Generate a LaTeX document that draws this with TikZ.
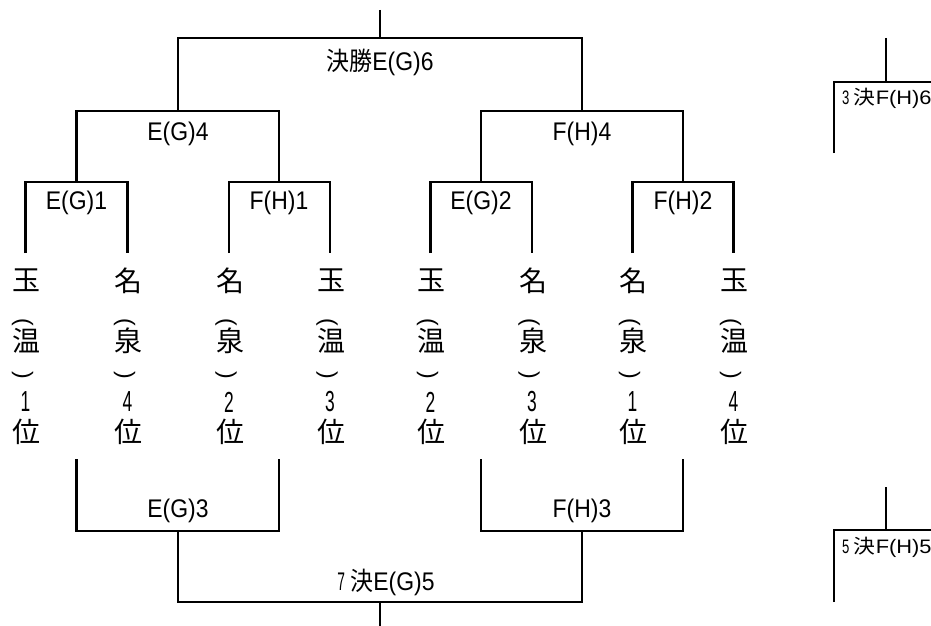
\documentclass[tikz,border=0pt]{standalone}
\usepackage{fontspec}
\usepackage{graphicx}
\setmainfont{Liberation Sans}
\newfontfamily\jp{Noto Sans CJK JP}
\newcommand{\nd}[1]{\scalebox{0.6}[1]{#1}}
\newcommand{\cnd}[1]{\scalebox{0.9}[1]{#1}}
\newcommand{\wid}[1]{\scalebox{1.12}[1]{#1}}
\begin{document}
\begin{tikzpicture}[x=1pt,y=-1pt,
  wire/.style={line width=2.2pt, line join=miter},
  lbl/.style={inner sep=0pt, font=\fontsize{25.5}{25.5}\selectfont},
  sml/.style={inner sep=0pt, anchor=west, font=\fontsize{19.5}{19.5}\selectfont},
  chr/.style={inner sep=0pt, font=\jp\fontsize{28}{28}\selectfont},
  par/.style={inner sep=0pt, rotate=-90, font=\fontsize{23}{23}\selectfont},
  dig/.style={inner sep=0pt, font=\fontsize{29}{29}\selectfont}]
\useasboundingbox (0,0) rectangle (931,626);

% columns
\foreach \i/\x/\a/\b/\d in {1/25.5/玉/温/1, 2/127.5/名/泉/4, 3/229/名/泉/2, 4/330/玉/温/3,
                           5/430.5/玉/温/2, 6/532/名/泉/3, 7/632.5/名/泉/1, 8/733.5/玉/温/4}{
  \coordinate (c\i) at (\x,253);
  \node[chr] (a\i) at (\x+1,280.5) {\a};
  \node[par] (o\i) at (\x-3,322) {(};
  \node[chr] (b\i) at (\x+1,341) {\b};
  \node[par] (e\i) at (\x-3,375) {)};
  \node[dig] (d\i) at (\x,402) {\nd{\d}};
  \node[chr] (w\i) at (\x+1,432) {位};
}

% upper tree coordinates
\coordinate (t0) at (380,10);
\coordinate (tl) at (178,111);
\coordinate (tr) at (582,111);
\coordinate (s1) at (76.5,182);
\coordinate (s2) at (279,182);
\coordinate (s3) at (481,182);
\coordinate (s4) at (683,182);

\draw[wire] (t0) -- (380,38);
\draw[wire] (tl) |- (tr |- 0,38) -- (tr);
\draw[wire] (s1) |- (s2 |- tl) -- (s2);
\draw[wire] (s3) |- (s4 |- tr) -- (s4);
\draw[wire] (c1) |- (c2 |- s1) -- (c2);
\draw[wire] (c3) |- (c4 |- s2) -- (c4);
\draw[wire] (c5) |- (c6 |- s3) -- (c6);
\draw[wire] (c7) |- (c8 |- s4) -- (c8);

\node[lbl] (fin) at (380,62) {\cnd{{\jp 決勝}E(G)6}};
\node[lbl] (eg4) at (178,134) {\cnd{E(G)4}};
\node[lbl] (fh4) at (582,134) {\cnd{F(H)4}};
\node[lbl] (eg1) at (76.5,203) {\cnd{E(G)1}};
\node[lbl] (fh1) at (279,203) {\cnd{F(H)1}};
\node[lbl] (eg2) at (481,203) {\cnd{E(G)2}};
\node[lbl] (fh2) at (683,203) {\cnd{F(H)2}};

% lower tree
\coordinate (u1) at (76.5,459);
\coordinate (u2) at (279,459);
\coordinate (u3) at (481,459);
\coordinate (u4) at (683,459);
\coordinate (bl) at (178,531);
\coordinate (br) at (582,531);
\coordinate (b0) at (380,626);

\draw[wire] (u1) |- (u2 |- bl) -- (u2);
\draw[wire] (u3) |- (u4 |- br) -- (u4);
\draw[wire] (bl) |- (br |- 0,602) -- (br);
\draw[wire] (380,602) -- (b0);

\node[lbl] (eg3) at (178,511) {\cnd{E(G)3}};
\node[lbl] (fh3) at (582,511) {\cnd{F(H)3}};
\node[lbl] (m7) at (386,582) {\cnd{\nd{7}\hspace{6pt}{\jp 決}E(G)5}};

% right side fragments
\coordinate (q1) at (886,38);
\coordinate (q2) at (834,153);
\coordinate (q3) at (931,82);
\draw[wire] (q1) -- (886,82);
\draw[wire] (q2) |- (q3);
\node[sml] (f6) at (842,98) {\wid{\nd{3}\hspace{4pt}{\jp 決}F(H)6}};

\coordinate (k1) at (886,487);
\coordinate (k2) at (834,602);
\coordinate (k3) at (931,530);
\draw[wire] (k1) -- (886,530);
\draw[wire] (k2) |- (k3);
\node[sml] (f5) at (842,547) {\wid{\nd{5}\hspace{4pt}{\jp 決}F(H)5}};
\end{tikzpicture}
\end{document}
